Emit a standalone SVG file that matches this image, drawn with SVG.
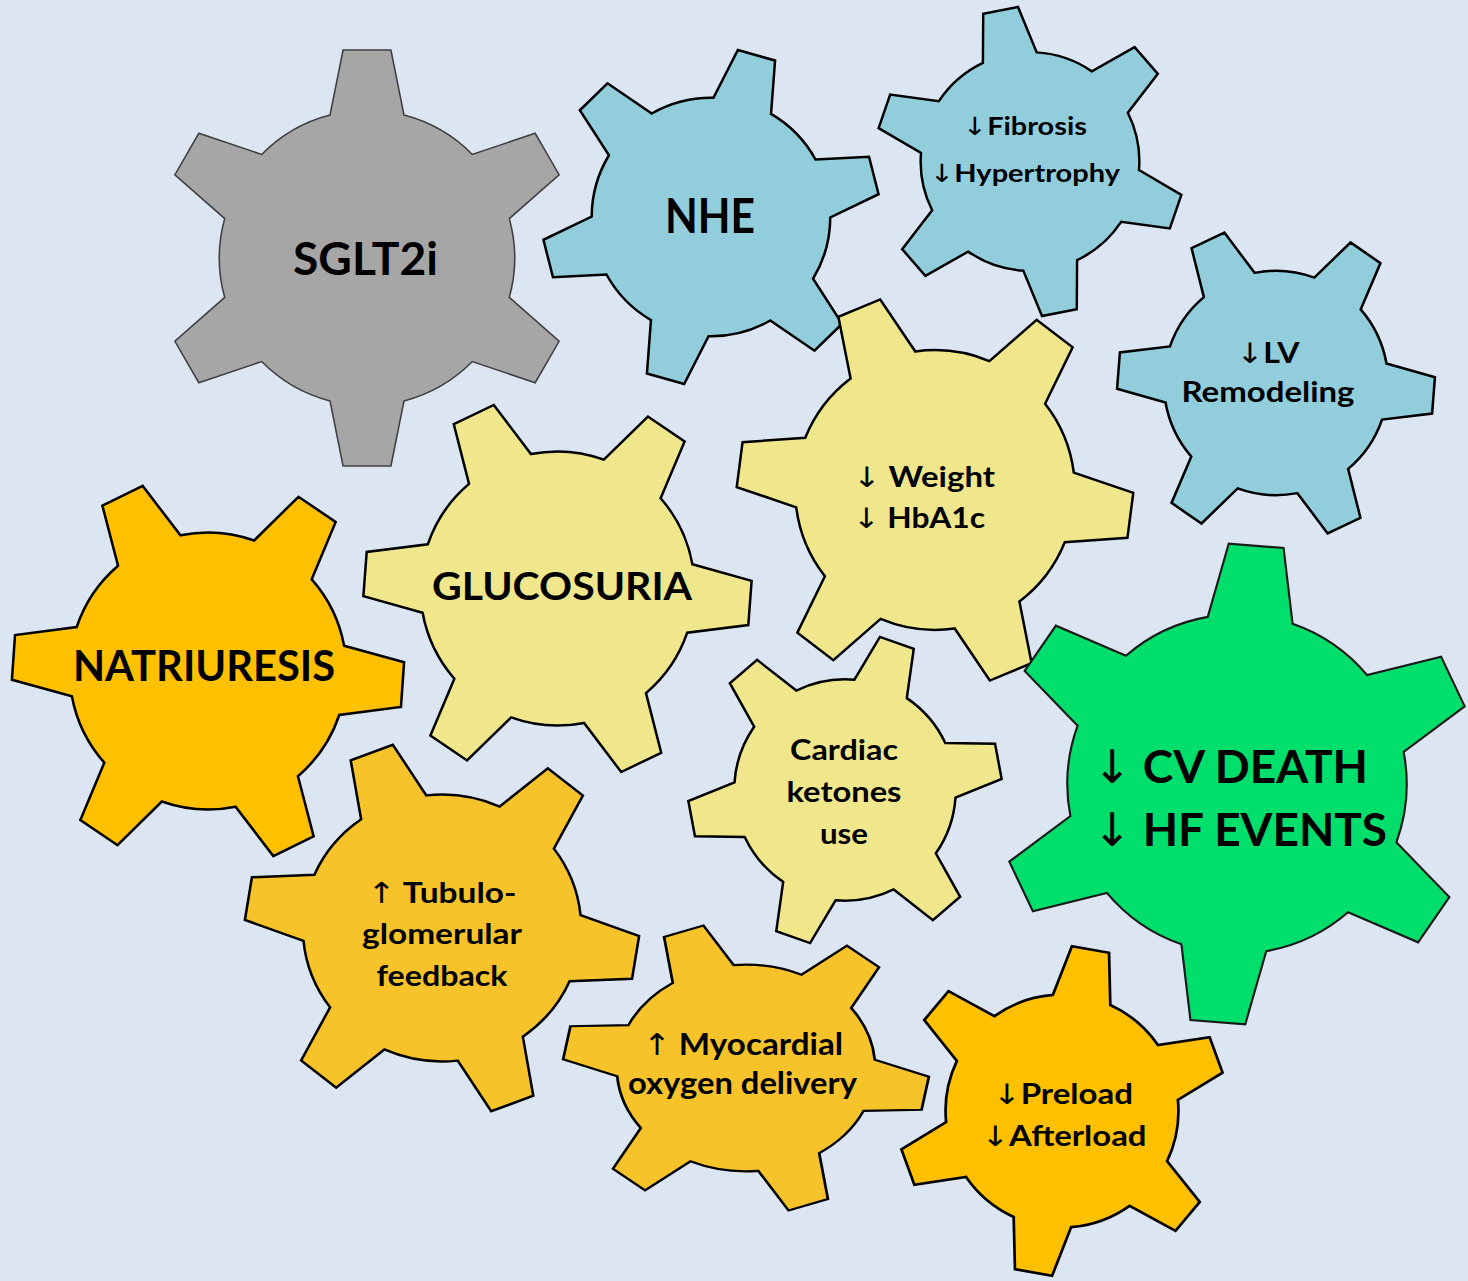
<svg xmlns="http://www.w3.org/2000/svg" xmlns:xlink="http://www.w3.org/1999/xlink" width="1468" height="1281" viewBox="0 0 1468 1281">
<style>
.t{font-family:Lato,"Liberation Sans",Arial,sans-serif;font-weight:700;fill:#000;text-anchor:middle}
.s{text-anchor:start}
.a{font-family:"DejaVu Sans",sans-serif;font-weight:400}
.gray{fill:#A6A6A6;stroke:#3F3F3F}
.blue{fill:#92CDDC;stroke:#000}
.yel{fill:#F0E78C;stroke:#000}
.org{fill:#FFC000;stroke:#000}
.org2{fill:#F6C42A;stroke:#000}
.grn{fill:#00DE6C;stroke:#1a1a1a}
</style>
<defs>
<path id="gear" stroke-linejoin="miter" d="M68.73,-17.8 L100,-11.5 L100,11.5 L68.73,17.8 A71,71 0 0 1 49.78,50.62 L59.96,80.85 L40.04,92.35 L18.95,68.42 A71,71 0 0 1 -18.95,68.42 L-40.04,92.35 L-59.96,80.85 L-49.78,50.62 A71,71 0 0 1 -68.73,17.8 L-100,11.5 L-100,-11.5 L-68.73,-17.8 A71,71 0 0 1 -49.78,-50.62 L-59.96,-80.85 L-40.04,-92.35 L-18.95,-68.42 A71,71 0 0 1 18.95,-68.42 L40.04,-92.35 L59.96,-80.85 L49.78,-50.62 A71,71 0 0 1 68.73,-17.8 Z"/>
</defs>
<rect width="1468" height="1281" fill="#DCE6F2"/>
<g id="connectors"/>
<g id="gear-sglt2i">
<use xlink:href="#gear" class="gray" stroke-width="0.75" transform="translate(367 258) rotate(30) scale(2.08)"/>
<text class="t" x="365.5" y="275" font-size="46" textLength="145" lengthAdjust="spacingAndGlyphs">SGLT2i</text>
</g>
<g id="gear-nhe">
<use xlink:href="#gear" class="blue" stroke-width="1.5" transform="translate(711 217) rotate(-14.3) scale(1.68)"/>
<text class="t" x="710" y="233" font-size="47" textLength="90" lengthAdjust="spacingAndGlyphs">NHE</text>
</g>
<g id="gear-fibrosis">
<use xlink:href="#gear" class="blue" stroke-width="1.6" transform="translate(1030 161.5) rotate(19) scale(1.54)"/>
<text class="t" x="1025" y="135" font-size="25" textLength="124" lengthAdjust="spacingAndGlyphs"><tspan class="a">↓</tspan>Fibrosis</text>
<text class="t" x="1025" y="182" font-size="25" textLength="190" lengthAdjust="spacingAndGlyphs"><tspan class="a">↓</tspan>Hypertrophy</text>
</g>
<g id="gear-lv">
<use xlink:href="#gear" class="blue" stroke-width="1.6" transform="translate(1276 383) rotate(4.5) scale(1.58)"/>
<text class="t" x="1268" y="363" font-size="28" textLength="63" lengthAdjust="spacingAndGlyphs"><tspan class="a">↓</tspan>LV</text>
<text class="t" x="1268" y="402" font-size="28" textLength="173" lengthAdjust="spacingAndGlyphs">Remodeling</text>
</g>
<g id="gear-weight">
<use xlink:href="#gear" class="yel" stroke-width="1.27" transform="translate(935 490) rotate(7.4) scale(1.97)"/>
<text class="t s" x="853" y="487" font-size="28" textLength="142" lengthAdjust="spacingAndGlyphs"><tspan class="a">↓</tspan> Weight</text>
<text class="t s" x="853" y="528" font-size="28" textLength="132" lengthAdjust="spacingAndGlyphs"><tspan class="a">↓</tspan> HbA1c</text>
</g>
<g id="gear-glucosuria">
<use xlink:href="#gear" class="yel" stroke-width="1.3" transform="translate(557.5 588.5) rotate(4.3) scale(1.93)"/>
<text class="t" x="562" y="600" font-size="39" textLength="260" lengthAdjust="spacingAndGlyphs">GLUCOSURIA</text>
</g>
<g id="gear-natriuresis">
<use xlink:href="#gear" class="org" stroke-width="1.3" transform="translate(208 671) rotate(4) scale(1.95)"/>
<text class="t" x="204" y="681" font-size="42" textLength="262" lengthAdjust="spacingAndGlyphs">NATRIURESIS</text>
</g>
<g id="gear-tubulo">
<use xlink:href="#gear" class="org2" stroke-width="1.3" transform="translate(442 928) scale(1.96 1.88) rotate(9)"/>
<text class="t" x="442" y="903" font-size="29" textLength="149" lengthAdjust="spacingAndGlyphs"><tspan class="a">↑</tspan> Tubulo-</text>
<text class="t" x="442" y="944" font-size="29" textLength="160" lengthAdjust="spacingAndGlyphs">glomerular</text>
<text class="t" x="442" y="986" font-size="29" textLength="131" lengthAdjust="spacingAndGlyphs">feedback</text>
</g>
<g id="gear-ketones">
<use xlink:href="#gear" class="yel" stroke-width="1.6" transform="translate(845 790) rotate(-10.6) scale(1.56)"/>
<text class="t" x="844" y="760" font-size="29" textLength="108" lengthAdjust="spacingAndGlyphs">Cardiac</text>
<text class="t" x="844" y="802" font-size="29" textLength="115" lengthAdjust="spacingAndGlyphs">ketones</text>
<text class="t" x="844" y="844" font-size="29" textLength="48" lengthAdjust="spacingAndGlyphs">use</text>
</g>
<g id="gear-myocardial">
<use xlink:href="#gear" class="org2" stroke-width="1.5" transform="translate(746 1068) scale(1.82 1.456) rotate(10)"/>
<text class="t" x="743" y="1055" font-size="30" textLength="200" lengthAdjust="spacingAndGlyphs"><tspan class="a">↑</tspan> Myocardial</text>
<text class="t" x="742.5" y="1094" font-size="30" textLength="229" lengthAdjust="spacingAndGlyphs">oxygen delivery</text>
</g>
<g id="gear-cv">
<use xlink:href="#gear" class="grn" stroke-width="0.9" transform="translate(1237 784) rotate(34.6) scale(2.39)"/>
<text class="t s" x="1093" y="783" font-size="46" textLength="275" lengthAdjust="spacingAndGlyphs"><tspan class="a">↓</tspan> CV DEATH</text>
<text class="t s" x="1093" y="846" font-size="46" textLength="294" lengthAdjust="spacingAndGlyphs"><tspan class="a">↓</tspan> HF EVENTS</text>
</g>
<g id="gear-preload">
<use xlink:href="#gear" class="org" stroke-width="1.65" transform="translate(1062 1111) rotate(40) scale(1.64)"/>
<text class="t" x="1063" y="1104" font-size="28" textLength="140" lengthAdjust="spacingAndGlyphs"><tspan class="a">↓</tspan>Preload</text>
<text class="t" x="1064" y="1146" font-size="28" textLength="165" lengthAdjust="spacingAndGlyphs"><tspan class="a">↓</tspan>Afterload</text>
</g>
</svg>
